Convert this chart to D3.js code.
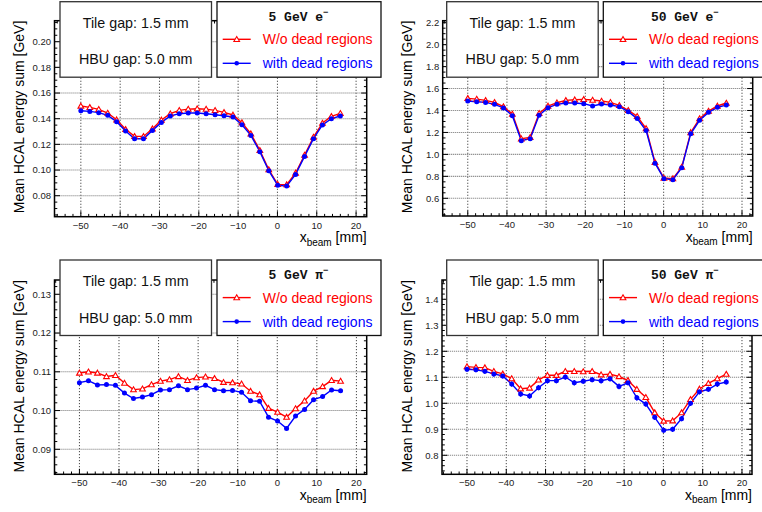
<!DOCTYPE html>
<html><head><meta charset="utf-8">
<script src="https://cdn.jsdelivr.net/npm/d3@7"></script>
<style>body{margin:0;background:#fff}svg{display:block}</style>
</head><body><svg id="c" width="762" height="512"></svg>
<script>
// beam positions [mm]
const xBeam = [-50.0,-47.72,-45.45,-43.17,-40.90,-38.62,-36.34,-34.07,-31.79,-29.52,-27.24,-24.97,-22.69,-20.41,-18.14,-15.86,-13.59,-11.31,-9.03,-6.76,-4.48,-2.21,0.07,2.35,4.62,6.90,9.17,11.45,13.72,16.0];

// 5 GeV e-
const e5Without = [0.1499,0.1488,0.1473,0.1444,0.1392,0.1317,0.1262,0.1262,0.1322,0.1390,0.1439,0.1465,0.1475,0.1478,0.1475,0.1465,0.1449,0.1429,0.1369,0.1283,0.1153,0.1003,0.0888,0.0886,0.0977,0.1117,0.1257,0.1366,0.1418,0.1442];
const e5With    = [0.1462,0.1457,0.1447,0.1426,0.1377,0.1304,0.1244,0.1244,0.1309,0.1371,0.1421,0.1439,0.1444,0.1444,0.1439,0.1431,0.1423,0.1413,0.1353,0.1270,0.1143,0.0995,0.0881,0.0875,0.0966,0.1106,0.1244,0.1351,0.1400,0.1421];
// 50 GeV e-
const e50Without = [1.510,1.504,1.492,1.474,1.435,1.368,1.143,1.155,1.374,1.441,1.471,1.492,1.498,1.501,1.495,1.486,1.474,1.447,1.402,1.347,1.236,0.929,0.785,0.779,0.884,1.200,1.326,1.395,1.441,1.468];
const e50With    = [1.486,1.480,1.474,1.456,1.423,1.353,1.125,1.143,1.356,1.426,1.456,1.468,1.468,1.462,1.441,1.459,1.450,1.435,1.389,1.326,1.218,0.920,0.779,0.770,0.878,1.188,1.311,1.383,1.429,1.450];
// 5 GeV pi-
const pi5Without = [0.1097,0.1100,0.1097,0.1088,0.1091,0.1071,0.1054,0.1056,0.1067,0.1076,0.1080,0.1088,0.1078,0.1085,0.1087,0.1083,0.1073,0.1072,0.1069,0.1050,0.1041,0.1006,0.0996,0.0983,0.1005,0.1025,0.1050,0.1062,0.1078,0.1076];
const pi5With    = [0.1072,0.1077,0.1066,0.1067,0.1065,0.1045,0.1031,0.1035,0.1041,0.1053,0.1054,0.1064,0.1054,0.1058,0.1065,0.1054,0.1051,0.1052,0.1047,0.1025,0.1024,0.0983,0.0973,0.0954,0.0986,0.1003,0.1028,0.1036,0.1053,0.1051];
// 50 GeV pi-
const pi50Without = [1.141,1.138,1.137,1.123,1.113,1.095,1.056,1.059,1.090,1.108,1.108,1.123,1.123,1.122,1.123,1.110,1.112,1.103,1.088,1.054,1.023,0.964,0.932,0.933,0.964,1.015,1.055,1.077,1.095,1.112];
const pi50With    = [1.131,1.129,1.123,1.113,1.105,1.074,1.036,1.028,1.060,1.087,1.087,1.101,1.079,1.085,1.091,1.087,1.094,1.065,1.079,1.021,0.997,0.946,0.896,0.900,0.941,1.000,1.044,1.054,1.074,1.082];
const pi50WithErr = [0.010,0.010,0.010,0.011,0.010,0.010,0.011,0.011,0.010,0.011,0.010,0.010,0.011,0.010,0.010,0.011,0.010,0.011,0.010,0.011,0.010,0.010,0.009,0.010,0.010,0.010,0.010,0.010,0.011,0.010];

// tick labels
const xTicks = [-50,-40,-30,-20,-10,0,10,20];
const yTicksE5 = [0.08,0.10,0.12,0.14,0.16,0.18,0.20];
const yTicksE50 = [0.6,0.8,1.0,1.2,1.4,1.6,1.8,2.0,2.2];
const yTicksPi5 = [0.09,0.10,0.11,0.12,0.13];
const yTicksPi50 = [0.8,0.9,1.0,1.1,1.2,1.3,1.4];

const boxLines = ["Tile gap: 1.5 mm", "HBU gap: 5.0 mm"];
const legendLabels = ["W/o dead regions", "with dead regions"];
const titles = [["5","e"],["50","e"],["5","\u03C0"],["50","\u03C0"]];

const panels = [
  {l:54.5,r:366.7,t:20.7,b:216.7,xd:[-56.7,22.7],yd:[0.06364,0.21636],yt:yTicksE5,ym:0.005,fmt:d3.format(".2f"),
   red:e5Without,blue:e5With,title:titles[0],ytx:23.5,boxX:60,legX:217},
  {l:442.7,r:752.7,t:20.7,b:216,xd:[-56.4,22.73],yd:[0.4387,2.2182],yt:yTicksE50,ym:0.05,fmt:d3.format(".1f"),
   red:e50Without,blue:e50With,title:titles[1],ytx:412,boxX:446.7,legX:603.3},
  {l:54.5,r:366.7,t:280,b:474.3,xd:[-56.3,22.6],yd:[0.08355,0.13369],yt:yTicksPi5,ym:0.002,fmt:d3.format(".2f"),
   red:pi5Without,blue:pi5With,title:titles[2],ytx:23.5,boxX:60,legX:217},
  {l:442,r:752,t:280,b:474.3,xd:[-56.36,22.55],yd:[0.7269,1.4742],yt:yTicksPi50,ym:0.02,fmt:d3.format(".1f"),
   red:pi50Without,blue:pi50With,blueErr:pi50WithErr,title:titles[3],ytx:412,boxX:446.7,legX:603.3}
];
const boxTop = [1.7,1.7,260,260];

const svg = d3.select("#c");
const SANS = "'Liberation Sans', Arial, Helvetica, sans-serif";
const RED = "#ff0000", BLUE = "#0000ff";
const tri = d3.symbol().type(d3.symbolTriangle).size(14);

panels.forEach((p, i) => {
  const g = svg.append("g");
  const x = d3.scaleLinear().domain(p.xd).range([p.l, p.r]);
  const y = d3.scaleLinear().domain(p.yd).range([p.b, p.t]);
  const clipId = "clip" + i;
  svg.append("clipPath").attr("id", clipId).append("rect")
    .attr("x", p.l).attr("y", p.t).attr("width", p.r - p.l).attr("height", p.b - p.t);

  // grid
  g.selectAll(".gx").data(xTicks).join("line")
    .attr("x1", d => x(d)).attr("x2", d => x(d)).attr("y1", p.t).attr("y2", p.b)
    .attr("stroke", "#333").attr("stroke-width", 0.9).attr("stroke-dasharray", "1.2,1.8");
  g.selectAll(".gy").data(p.yt.filter(v => y(v) > p.t + 1)).join("line")
    .attr("x1", p.l).attr("x2", p.r).attr("y1", d => y(d)).attr("y2", d => y(d))
    .attr("stroke", "#888").attr("stroke-width", 1.1).attr("stroke-dasharray", "1.2,0.8");

  // ticks (inward on all sides)
  const xMinor = d3.range(-56, 23, 2).filter(v => v >= p.xd[0] && v <= p.xd[1] && v % 10 !== 0);
  const xMaj = xTicks.filter(v => v >= p.xd[0] && v <= p.xd[1]);
  const tk = g.append("g").attr("stroke", "#000").attr("stroke-width", 1);
  [[xMaj, 5.5], [xMinor, 2.8]].forEach(([arr, len]) => {
    arr.forEach(v => {
      tk.append("line").attr("x1", x(v)).attr("x2", x(v)).attr("y1", p.b).attr("y2", p.b - len);
      tk.append("line").attr("x1", x(v)).attr("x2", x(v)).attr("y1", p.t).attr("y2", p.t + len);
    });
  });
  const k0 = Math.ceil(p.yd[0] / p.ym - 1e-6), k1 = Math.floor(p.yd[1] / p.ym + 1e-6);
  const yMinor = d3.range(k0, k1 + 1).map(k => k * p.ym)
    .filter(v => !p.yt.some(t => Math.abs(t - v) < p.ym * 0.1));
  [[p.yt, 5.5], [yMinor, 2.8]].forEach(([arr, len]) => {
    arr.forEach(v => {
      tk.append("line").attr("y1", y(v)).attr("y2", y(v)).attr("x1", p.l).attr("x2", p.l + len);
      tk.append("line").attr("y1", y(v)).attr("y2", y(v)).attr("x1", p.r).attr("x2", p.r - len);
    });
  });

  // frame
  g.append("rect").attr("x", p.l).attr("y", p.t).attr("width", p.r - p.l).attr("height", p.b - p.t)
    .attr("fill", "none").attr("stroke", "#000").attr("stroke-width", 1.5);

  // tick labels
  g.selectAll(".xl").data(xMaj).join("text")
    .attr("x", d => x(d)).attr("y", p.b + 12).attr("text-anchor", "middle")
    .attr("font-family", SANS).attr("font-size", 9.5).attr("fill", "#222")
    .text(d => d < 0 ? "\u2212" + Math.abs(d) : d);
  g.selectAll(".yl").data(p.yt).join("text")
    .attr("x", p.l - 3.5).attr("y", d => y(d)).attr("dy", "0.35em").attr("text-anchor", "end")
    .attr("font-family", SANS).attr("font-size", 9.5).attr("fill", "#222")
    .text(d => p.fmt(d));

  // axis titles
  g.append("text").attr("transform", `translate(${p.ytx},${p.t}) rotate(-90)`)
    .attr("text-anchor", "end").attr("font-family", SANS).attr("font-size", 14).attr("fill", "#000")
    .text("Mean HCAL energy sum [GeV]");
  const xt = g.append("text").attr("x", p.r).attr("y", p.b + 25.5).attr("text-anchor", "end")
    .attr("font-family", SANS).attr("font-size", 14).attr("fill", "#000");
  xt.append("tspan").text("x");
  xt.append("tspan").attr("font-size", 10).attr("dy", 3.5).text("beam");
  xt.append("tspan").attr("dy", -3.5).text(" [mm]");

  // data
  const plot = g.append("g").attr("clip-path", `url(#${clipId})`);
  const line = (vals) => d3.line().x((d, j) => x(xBeam[j])).y(d => y(d))(vals);
  plot.append("path").attr("d", line(p.red)).attr("fill", "none").attr("stroke", RED).attr("stroke-width", 1.4);
  plot.append("path").attr("d", line(p.blue)).attr("fill", "none").attr("stroke", BLUE).attr("stroke-width", 1.4);
  if (p.blueErr) {
    plot.selectAll(".eb").data(p.blue).join("line")
      .attr("x1", (d, j) => x(xBeam[j])).attr("x2", (d, j) => x(xBeam[j]))
      .attr("y1", (d, j) => y(d - p.blueErr[j])).attr("y2", (d, j) => y(d + p.blueErr[j]))
      .attr("stroke", BLUE).attr("stroke-width", 1.2);
  }
  plot.selectAll(".mr").data(p.red).join("path")
    .attr("d", tri).attr("transform", (d, j) => `translate(${x(xBeam[j])},${y(d) + 0.5})`)
    .attr("fill", "#fff").attr("stroke", RED).attr("stroke-width", 1.1);
  plot.selectAll(".mb").data(p.blue).join("circle")
    .attr("cx", (d, j) => x(xBeam[j])).attr("cy", d => y(d)).attr("r", 2.5).attr("fill", BLUE);

  // info box
  const bt = boxTop[i];
  g.append("rect").attr("x", p.boxX).attr("y", bt).attr("width", 151.5).attr("height", 75.5)
    .attr("fill", "#fff").attr("stroke", "#333").attr("stroke-width", 1.3);
  boxLines.forEach((s, k) => {
    g.append("text").attr("x", p.boxX + 75.7).attr("y", bt + 26 + k * 36.5).attr("text-anchor", "middle")
      .attr("font-family", SANS).attr("font-size", 14.3).attr("fill", "#111").text(s);
  });

  // legend
  const lx = p.legX;
  g.append("rect").attr("x", lx).attr("y", bt).attr("width", 164).attr("height", 75.5)
    .attr("fill", "#fff").attr("stroke", "#111").attr("stroke-width", 1.3);
  const tt = g.append("text").attr("x", lx + 81.5).attr("y", bt + 19).attr("text-anchor", "middle")
    .attr("font-family", "'Liberation Mono', 'DejaVu Sans Mono', monospace").attr("font-weight", "bold")
    .attr("font-size", 13).attr("fill", "#111");
  tt.append("tspan").text(p.title[0] + " GeV " + p.title[1]);
  tt.append("tspan").attr("font-size", 9).attr("dy", -6).text("\u2212");
  const legRows = [{c: RED, y: bt + 37.6, tri: true}, {c: BLUE, y: bt + 61.6, tri: false}];
  legRows.forEach((r, k) => {
    g.append("line").attr("x1", lx + 5.7).attr("x2", lx + 33.7).attr("y1", r.y).attr("y2", r.y)
      .attr("stroke", r.c).attr("stroke-width", 1.4);
    if (r.tri) {
      g.append("path").attr("d", tri).attr("transform", `translate(${lx + 19.7},${r.y + 0.5})`)
        .attr("fill", "#fff").attr("stroke", r.c).attr("stroke-width", 1.1);
    } else {
      g.append("circle").attr("cx", lx + 19.7).attr("cy", r.y).attr("r", 2.3).attr("fill", r.c);
    }
    g.append("text").attr("x", lx + 45.7).attr("y", r.y + 5).attr("font-family", SANS)
      .attr("font-size", 14).attr("fill", r.c).text(legendLabels[k]);
  });
});
</script></body></html>
